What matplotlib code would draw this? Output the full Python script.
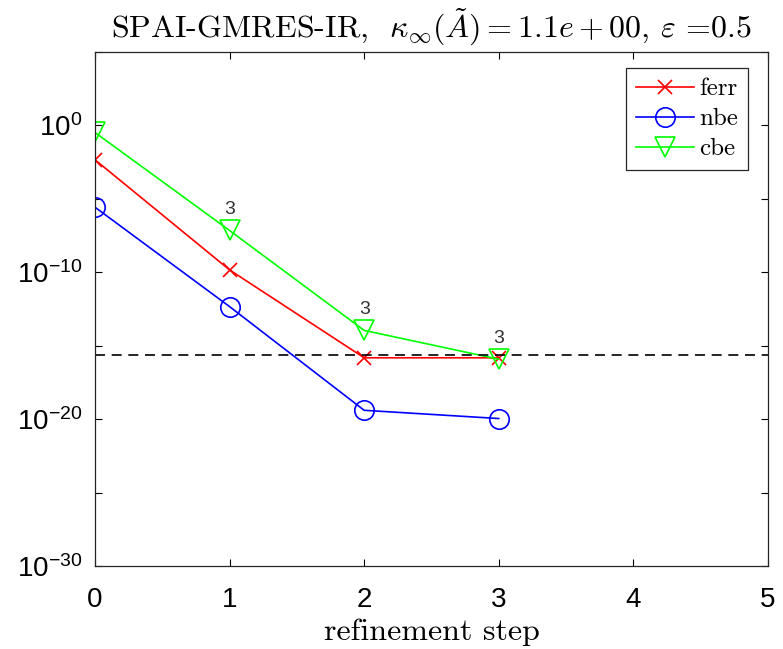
import matplotlib
matplotlib.use("Agg")
import matplotlib.pyplot as plt
from matplotlib.font_manager import FontProperties

plt.rcParams['font.family'] = ['Liberation Sans', 'DejaVu Sans']
plt.rcParams['mathtext.fontset'] = 'custom'
plt.rcParams['mathtext.rm'] = 'Liberation Sans'
plt.rcParams['mathtext.it'] = 'Liberation Sans:italic'
plt.rcParams['mathtext.bf'] = 'Liberation Sans:bold'

# data
steps = [0, 1, 2, 3]
ferr = [4.6e-3, 1.45e-10, 1.5e-16, 1.5e-16]
nbe = [2.7e-6, 4.6e-13, 4e-20, 1.1e-20]
cbe = [3.3e-1, 7e-8, 1.1e-14, 1.2e-16]
gmres_its = [None, 3, 3, 3]   # inner iterations shown above cbe markers
eps_line = 2.2e-16

ytick_exp = [-30, -25, -20, -15, -10, -5, 0, 5]
xticks = [0, 1, 2, 3, 4, 5]

cm_font = FontProperties(family='cmr10', math_fontfamily='cm', size=23)
leg_font = FontProperties(family='cmr10', math_fontfamily='cm', size=18)
xl_font = FontProperties(family='cmr10', math_fontfamily='cm', size=23)

fig = plt.figure(figsize=(7.83, 6.49), dpi=100)
ax = fig.add_axes([0.1213, 0.1279, 0.8595, 0.792])

ax.plot(steps, ferr, color='red', marker='x', ms=10, mew=1.2, lw=1.2, label='ferr')
ax.plot(steps, nbe, color='blue', marker='o', ms=14, mfc='none', mew=1.2, lw=1.2, label='nbe')
ax.plot(steps, cbe, color='#00ff00', marker='v', ms=15, mfc='none', mew=1.2, lw=1.2, label='cbe')
ax.axhline(eps_line, color='black', ls=(0, (6, 4)), lw=1.2)

for x, y, n in zip(steps, cbe, gmres_its):
    if n is None:
        continue
    ax.annotate(str(n), (x, y), xytext=(0, 15), textcoords='offset points',
                ha='center', va='center', fontsize=14, color='#333333')

ax.set_yscale('log')
ax.set_xlim(0, 5)
ax.set_ylim(1e-30, 1e5)
ax.set_xticks(xticks)
ax.set_yticks([10.0 ** e for e in ytick_exp])
ax.set_yticklabels(['$10^{%d}$' % e if e % 10 == 0 else '' for e in ytick_exp])
ax.minorticks_off()
ax.tick_params(direction='in', top=True, right=True, length=5, width=0.8, labelsize=20)
ax.tick_params(axis='x', pad=15)
ax.tick_params(axis='y', pad=9)
for s in ax.spines.values():
    s.set_linewidth(0.9)
    s.set_color('#262626')

ax.set_title(r'SPAI-GMRES-IR,  $\kappa_\infty(\tilde{A}) = 1.1e+00$, $\varepsilon$ =0.5',
             fontproperties=cm_font, pad=10.5)
ax.set_xlabel('refinement step', fontproperties=xl_font, labelpad=4)

leg = ax.legend(loc='upper right', bbox_to_anchor=(0.970, 0.969), prop=leg_font,
                fancybox=False, edgecolor='#262626', framealpha=1, borderaxespad=0,
                handlelength=2.3, labelspacing=0.3, borderpad=0.4, handletextpad=0.2)
leg.get_frame().set_linewidth(0.9)

fig.savefig('out.png', dpi=100)
